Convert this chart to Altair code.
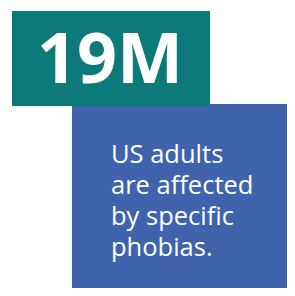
import altair as alt
import pandas as pd

# Content
stat_value = ["19M"]
caption_lines = ["US adults", "are affected", "by specific", "phobias."]
box_colors = ["#0B7A79", "#3F63AD"]

W, H = 279, 280
OFF = 8  # page margin offset

stat_df = pd.DataFrame({"label": stat_value})
cap_df = pd.DataFrame({"label": [caption_lines]})
one = pd.DataFrame({"k": [0]})

blue_box = alt.Chart(one).mark_rect(color=box_colors[1]).encode(
    x=alt.value(72 - OFF), x2=alt.value(295 - OFF),
    y=alt.value(104 - OFF), y2=alt.value(296 - OFF),
)
teal_box = alt.Chart(one).mark_rect(color=box_colors[0]).encode(
    x=alt.value(12 - OFF), x2=alt.value(210 - OFF),
    y=alt.value(11 - OFF), y2=alt.value(106 - OFF),
)
stat_text = alt.Chart(stat_df).mark_text(
    font="Open Sans", fontWeight="bold", fontSize=70, color="white",
    align="left", baseline="alphabetic",
).encode(text="label:N", x=alt.value(37 - OFF), y=alt.value(83 - OFF))

cap_text = alt.Chart(cap_df).mark_text(
    font="Open Sans", fontSize=25.5, color="white", lineHeight=31,
    align="left", baseline="alphabetic",
).encode(text="label", x=alt.value(111 - OFF), y=alt.value(163 - OFF))

chart = alt.layer(blue_box, teal_box, stat_text, cap_text).properties(
    width=W, height=H, padding=0, autosize=alt.AutoSizeParams(type="none"),
    background="white",
).configure_view(stroke=None)

chart.save("out.html", embed_options={"renderer": "svg", "actions": False})
